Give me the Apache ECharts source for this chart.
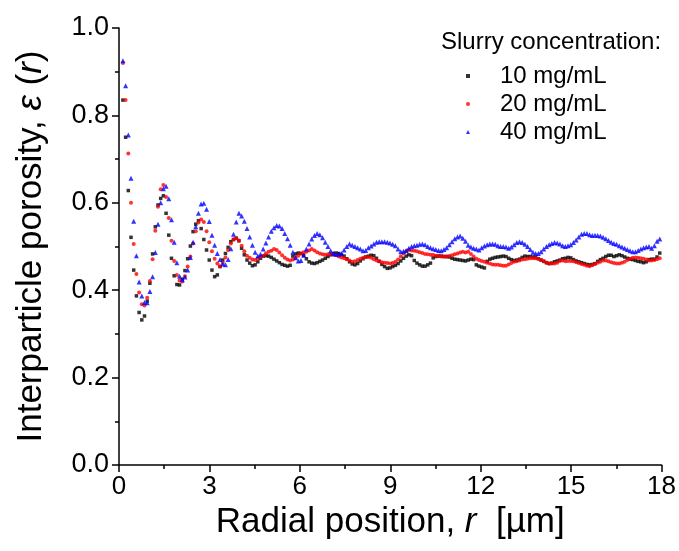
<!DOCTYPE html>
<html>
<head>
<meta charset="utf-8">
<script src="https://cdn.jsdelivr.net/npm/echarts@6/dist/echarts.min.js"></script>
<style>
html,body{margin:0;padding:0;background:#fff;}
#chart{width:679px;height:551px;}
</style>
</head>
<body>
<div id="chart"></div>
<script>
// Radial sampling grid (µm): first sample and spacing
const rStart = 0.13;
const rStep = 0.0895;

const seriesNames = ['10 mg/mL', '20 mg/mL', '40 mg/mL'];
const xTicks = [0, 3, 6, 9, 12, 15, 18];
const yTicks = [0.0, 0.2, 0.4, 0.6, 0.8, 1.0];

const porosity10 = [
0.835,0.750,0.628,0.521,0.446,0.387,0.349,0.332,0.341,0.375,
0.416,0.483,0.545,0.595,0.610,0.616,0.576,0.526,0.473,0.433,
0.413,0.412,0.425,0.445,0.472,0.501,0.534,0.551,0.559,0.541,
0.516,0.492,0.469,0.446,0.431,0.435,0.454,0.469,0.484,0.498,
0.511,0.516,0.519,0.513,0.496,0.481,0.469,0.462,0.456,0.458,
0.465,0.473,0.478,0.479,0.478,0.475,0.471,0.467,0.463,0.459,
0.457,0.455,0.457,0.478,0.483,0.485,0.484,0.480,0.472,0.465,
0.462,0.461,0.463,0.466,0.469,0.473,0.477,0.481,0.484,0.485,
0.484,0.481,0.478,0.472,0.465,0.460,0.458,0.461,0.467,0.472,
0.476,0.478,0.480,0.479,0.473,0.466,0.459,0.454,0.450,0.451,
0.454,0.457,0.461,0.467,0.473,0.478,0.481,0.479,0.468,0.462,
0.458,0.455,0.455,0.458,0.462,0.474,0.477,0.478,0.478,0.477,
0.477,0.476,0.473,0.471,0.470,0.469,0.468,0.467,0.469,0.471,
0.470,0.458,0.455,0.453,0.451,0.466,0.471,0.473,0.475,0.476,
0.477,0.478,0.477,0.473,0.470,0.468,0.469,0.471,0.475,0.478,
0.477,0.477,0.476,0.475,0.472,0.469,0.466,0.463,0.461,0.462,
0.465,0.467,0.469,0.472,0.473,0.475,0.474,0.470,0.467,0.465,
0.463,0.461,0.459,0.458,0.459,0.461,0.466,0.470,0.473,0.477,
0.480,0.480,0.477,0.479,0.481,0.479,0.476,0.473,0.471,0.470,
0.468,0.466,0.465,0.463,0.465,0.470,0.471,0.471,0.476,0.485
];

const porosity20 = [
0.920,0.835,0.713,0.600,0.506,0.437,0.395,0.368,0.365,0.383,
0.421,0.471,0.536,0.591,0.631,0.641,0.613,0.565,0.513,0.467,
0.435,0.422,0.420,0.432,0.454,0.477,0.507,0.535,0.555,0.562,
0.556,0.535,0.510,0.489,0.472,0.461,0.455,0.463,0.475,0.492,
0.507,0.516,0.519,0.514,0.502,0.489,0.479,0.474,0.470,0.469,
0.472,0.476,0.479,0.484,0.488,0.490,0.494,0.492,0.486,0.480,
0.474,0.470,0.468,0.470,0.474,0.479,0.484,0.487,0.488,0.491,
0.494,0.491,0.487,0.484,0.482,0.481,0.482,0.482,0.481,0.480,
0.477,0.475,0.473,0.471,0.468,0.465,0.466,0.469,0.472,0.474,
0.476,0.476,0.474,0.471,0.468,0.466,0.464,0.463,0.462,0.461,
0.462,0.465,0.470,0.477,0.484,0.489,0.492,0.491,0.490,0.489,
0.487,0.485,0.483,0.482,0.481,0.481,0.479,0.478,0.477,0.477,
0.477,0.478,0.480,0.482,0.484,0.486,0.488,0.486,0.488,0.483,
0.477,0.472,0.469,0.467,0.465,0.463,0.461,0.459,0.458,0.458,
0.457,0.456,0.456,0.459,0.462,0.465,0.466,0.468,0.470,0.471,
0.472,0.473,0.473,0.473,0.472,0.469,0.466,0.463,0.461,0.461,
0.461,0.463,0.467,0.468,0.466,0.467,0.467,0.466,0.464,0.462,
0.460,0.458,0.456,0.455,0.457,0.460,0.463,0.465,0.468,0.468,
0.466,0.464,0.462,0.461,0.461,0.463,0.465,0.469,0.472,0.474,
0.475,0.474,0.473,0.472,0.470,0.468,0.468,0.469,0.471,0.473
];

const porosity40 = [
0.925,0.868,0.755,0.656,0.558,0.479,0.419,0.387,0.372,0.371,
0.397,0.431,0.486,0.551,0.600,0.632,0.638,0.609,0.561,0.510,
0.463,0.432,0.424,0.430,0.446,0.475,0.510,0.545,0.576,0.597,
0.599,0.585,0.557,0.526,0.503,0.484,0.470,0.460,0.458,0.470,
0.495,0.528,0.556,0.576,0.570,0.558,0.541,0.522,0.503,0.487,
0.478,0.482,0.494,0.508,0.522,0.535,0.543,0.548,0.547,0.541,
0.530,0.518,0.503,0.487,0.474,0.467,0.468,0.480,0.494,0.506,
0.517,0.525,0.530,0.527,0.520,0.510,0.500,0.490,0.484,0.482,
0.482,0.484,0.492,0.500,0.506,0.503,0.500,0.497,0.494,0.490,
0.491,0.497,0.501,0.506,0.510,0.511,0.511,0.511,0.510,0.508,
0.505,0.502,0.494,0.488,0.489,0.491,0.496,0.500,0.502,0.503,
0.505,0.506,0.504,0.500,0.497,0.495,0.493,0.491,0.490,0.493,
0.497,0.504,0.511,0.518,0.522,0.524,0.519,0.512,0.503,0.499,
0.496,0.494,0.492,0.497,0.501,0.504,0.506,0.506,0.505,0.502,
0.500,0.500,0.499,0.496,0.499,0.504,0.509,0.511,0.509,0.505,
0.500,0.493,0.487,0.484,0.484,0.488,0.494,0.500,0.504,0.507,
0.509,0.508,0.506,0.502,0.500,0.502,0.504,0.509,0.515,0.522,
0.528,0.530,0.530,0.527,0.525,0.526,0.525,0.524,0.521,0.518,
0.514,0.510,0.507,0.505,0.502,0.499,0.496,0.493,0.490,0.488,
0.488,0.491,0.494,0.497,0.499,0.500,0.496,0.502,0.512,0.517
];

function pairs(values) {
  return values.map((v, i) => [+(rStart + i * rStep).toFixed(4), v]);
}

const chart = echarts.init(document.getElementById('chart'), null, {renderer: 'canvas'});
const FONT = 'Arial, "Liberation Sans", sans-serif';

chart.setOption({
  animation: false,
  backgroundColor: '#ffffff',
  title: {
    text: 'Slurry concentration:',
    left: 436, top: 25,
    textStyle: {fontFamily: FONT, fontSize: 24, fontWeight: 'normal', color: '#000'}
  },
  legend: {
    data: seriesNames.map((n, k) => ({name: n, icon: ['rect', 'circle', 'triangle'][k]})),
    orient: 'vertical',
    left: 461, top: 59,
    itemWidth: 4, itemHeight: 4, itemGap: 4,
    textStyle: {fontFamily: FONT, fontSize: 24, color: '#000', padding: [0, 0, 0, 25]}
  },
  grid: {left: 119, top: 28, width: 543, height: 437, containLabel: false},
  xAxis: {
    type: 'value', min: 0, max: 18, interval: 3,
    name: '{n|Radial position, }{i|r}{n|  [µm]}',
    nameLocation: 'middle', nameGap: 40,
    nameTextStyle: {rich: {
      n: {fontFamily: FONT, fontSize: 35, color: '#000'},
      i: {fontFamily: FONT, fontSize: 35, fontStyle: 'italic', color: '#000'}
    }},
    axisLine: {show: true, lineStyle: {color: '#000', width: 1.5}},
    axisTick: {show: true, inside: false, length: 7, lineStyle: {color: '#000', width: 1.5}},
    minorTick: {show: true, splitNumber: 2, length: 4, lineStyle: {color: '#000', width: 1.5}},
    splitLine: {show: false},
    axisLabel: {fontFamily: FONT, fontSize: 26, color: '#000', margin: 9,
      formatter: v => xTicks.includes(v) ? String(v) : ''}
  },
  yAxis: {
    type: 'value', min: 0, max: 1, interval: 0.2,
    name: '{n|Interparticle porosity, }{i|ε}{n| (}{i|r}{n|)}',
    nameLocation: 'middle', nameGap: 70, nameRotate: 90,
    nameTextStyle: {rich: {
      n: {fontFamily: FONT, fontSize: 35, color: '#000'},
      i: {fontFamily: FONT, fontSize: 35, fontStyle: 'italic', color: '#000'}
    }},
    axisLine: {show: true, lineStyle: {color: '#000', width: 1.5}},
    axisTick: {show: true, inside: false, length: 7, lineStyle: {color: '#000', width: 1.5}},
    minorTick: {show: true, splitNumber: 2, length: 4, lineStyle: {color: '#000', width: 1.5}},
    splitLine: {show: false},
    axisLabel: {fontFamily: FONT, fontSize: 27, color: '#000', margin: 10,
      formatter: v => yTicks.some(t => Math.abs(t - v) < 1e-9) ? v.toFixed(1) : ''}
  },
  series: [
    {name: seriesNames[0], type: 'scatter', symbol: 'rect', symbolSize: 3.5,
     itemStyle: {color: '#000000'}, data: pairs(porosity10)},
    {name: seriesNames[1], type: 'scatter', symbol: 'circle', symbolSize: 4,
     itemStyle: {color: '#ff0000'}, data: pairs(porosity20)},
    {name: seriesNames[2], type: 'scatter', symbol: 'triangle', symbolSize: 5,
     itemStyle: {color: '#0000ff'}, data: pairs(porosity40)}
  ]
});
</script>
</body>
</html>
